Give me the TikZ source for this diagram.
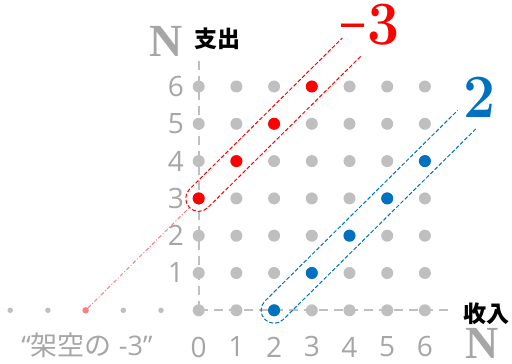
\documentclass[tikz,border=0pt]{standalone}
\usepackage{fontspec}
\usepackage{graphicx}
\usetikzlibrary{calc}
\newfontfamily\cjk{Noto Sans CJK JP}
\newfontfamily\lab{Open Sans}
\newfontfamily\serifN{Liberation Serif}
\definecolor{dotgray}{HTML}{BFBFBF}
\definecolor{txtgray}{HTML}{A6A6A6}
\definecolor{myred}{HTML}{FF0000}
\definecolor{myblue}{HTML}{0070C0}
\definecolor{mypink}{HTML}{FF7C80}
\begin{document}
\begin{tikzpicture}[x=1pt,y=1pt,
  gdot/.style={circle,fill=dotgray,inner sep=0pt,minimum size=12pt},
  rdot/.style={circle,fill=myred,inner sep=0pt,minimum size=12pt},
  bdot/.style={circle,fill=myblue,inner sep=0pt,minimum size=12pt},
  sdot/.style={circle,fill=dotgray,inner sep=0pt,minimum size=5.5pt},
  pdot/.style={circle,fill=mypink,inner sep=0pt,minimum size=6.5pt},
  axisline/.style={draw=dotgray,line width=1.6pt,dash pattern=on 9pt off 6pt},
  capsule/.style={line width=1pt,dash pattern=on 4pt off 2pt},
  tick/.style={text=txtgray,font=\lab\fontsize{28}{28}\selectfont,inner sep=0pt},
  bigN/.style={text=txtgray,font=\serifN\bfseries\fontsize{46}{46}\selectfont,inner sep=0pt},
  cjklab/.style={text=black,font=\cjk\bfseries\fontsize{23}{23}\selectfont,inner sep=0pt},
  bignum/.style={font=\bfseries\fontsize{57}{57}\selectfont,inner sep=0pt}]
\useasboundingbox (0,0) rectangle (512,364);
% axes
\coordinate (o) at (198.7,53.7);
\coordinate (ytop) at (198.7,303);
\coordinate (xend) at (452,53.7);
\draw[axisline] (o) -- (ytop);
\draw[axisline] (o) -- (xend);
% grid dots
\foreach \i in {0,...,6}{
  \foreach \j in {0,...,6}{
    \node[gdot] (p-\i-\j) at ({198.7+37.7*\i},{53.7+37.3*\j}) {};
  }
}
% red and blue dots
\node[rdot] (r0) at (p-0-3) {};
\node[rdot] (r1) at (p-1-4) {};
\node[rdot] (r2) at (p-2-5) {};
\node[rdot] (r3) at (p-3-6) {};
\node[bdot] (b0) at (p-2-0) {};
\node[bdot] (b1) at (p-3-1) {};
\node[bdot] (b2) at (p-4-2) {};
\node[bdot] (b3) at (p-5-3) {};
\node[bdot] (b4) at (p-6-4) {};
% negative dots
\node[sdot] (m5) at (10.2,53.7) {};
\node[sdot] (m4) at (47.9,53.7) {};
\node[pdot] (m3) at (85.6,53.7) {};
\node[sdot] (m2) at (123.3,53.7) {};
\node[sdot] (m1) at (161.0,53.7) {};
% pink dash-dot connector
\draw[mypink,line width=1pt,dash pattern=on 4pt off 2pt on 1pt off 2pt,shorten >=7pt] (m3) -- (r0);
% capsules
\begin{scope}[shift={(198.7,165.6)},rotate=44.7]
  \draw[capsule,myred] (215,-13) -- (0,-13) arc (-90:-270:13) -- (215,13);
\end{scope}
\begin{scope}[shift={(274.1,53.7)},rotate=44.7]
  \draw[capsule,myblue] (271,-13) -- (0,-13) arc (-90:-270:13) -- (271,13);
\end{scope}
% tick labels
\foreach \j in {1,...,6}{
  \node[tick] (yl-\j) at (176,{53.7+37.3*\j}) {\j};
}
\foreach \i in {0,...,6}{
  \node[tick] (xl-\i) at ({198.7+37.7*\i},17) {\i};
}
% axis names
\node[bigN] (ntop) at (166.5,322.5) {N};
\node[cjklab] (zhichu) at (217,325) {支出};
\node[cjklab] (shouru) at (486.5,50.5) {收入};
\node[bigN] (nright) at (482,20.5) {N};
% big numbers
\node[bignum,text=myred,anchor=base] (neg3) at (370.5,319) {\scalebox{1}[1.08]{\raisebox{-0.15em}{\scalebox{0.72}[1.7]{–}}\kern0.06em 3}};
\node[bignum,text=myblue] (two) at (480,266.5) {\scalebox{1}[1.08]{2}};
% imaginary label
\node[text=txtgray,inner sep=0pt] (imag) at (87,19) {\lab\fontsize{27}{27}\selectfont “{\cjk 架空の} -3”};
\end{tikzpicture}
\end{document}
